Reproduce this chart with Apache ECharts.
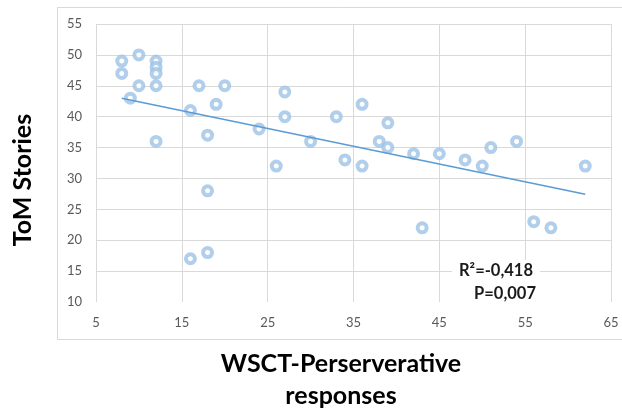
<!DOCTYPE html>
<html>
<head>
<meta charset="utf-8">
<script src="https://cdn.jsdelivr.net/npm/echarts@6/dist/echarts.min.js"></script>
<style>
  html, body { margin: 0; padding: 0; background: #ffffff; }
  #chart { width: 622px; height: 412px; }
</style>
</head>
<body>
<div id="chart"></div>
<script>
// WSCT perseverative responses (x) against ToM stories score (y), one entry per participant
const perseverativeResponses = [8, 8, 10, 12, 12, 12, 12, 10, 9, 12,
  16, 17, 19, 20, 18, 18, 16, 18,
  24, 26, 27, 27, 30, 33, 34, 36, 36, 38,
  39, 39, 42, 43, 45, 48, 50, 51, 54, 56, 58, 62];
const tomStories = [49, 47, 50, 49, 48, 47, 45, 45, 43, 36,
  41, 45, 42, 45, 37, 28, 17, 18,
  38, 32, 44, 40, 36, 40, 33, 42, 32, 36,
  39, 35, 34, 22, 34, 33, 32, 35, 36, 23, 22, 32];

const xTitle = 'WSCT-Perserverative\nresponses';
const yTitle = 'ToM Stories';
const statsLines = ['R²=-0,418', 'P=0,007'];

// Pair the values for the scatter series
const points = perseverativeResponses.map((x, i) => [x, tomStories[i]]);

// Ordinary least-squares trend line over the observed x range
const n = points.length;
const meanX = perseverativeResponses.reduce((a, b) => a + b, 0) / n;
const meanY = tomStories.reduce((a, b) => a + b, 0) / n;
let sxy = 0, sxx = 0;
for (let i = 0; i < n; i++) {
  sxy += (perseverativeResponses[i] - meanX) * (tomStories[i] - meanY);
  sxx += (perseverativeResponses[i] - meanX) ** 2;
}
const slope = sxy / sxx;
const intercept = meanY - slope * meanX;
const xMin = Math.min(...perseverativeResponses);
const xMax = Math.max(...perseverativeResponses);
const trend = [[xMin, intercept + slope * xMin], [xMax, intercept + slope * xMax]];

const FONT = 'Lato, "Open Sans", sans-serif';
const GRID = '#d9d9d9';

const chart = echarts.init(document.getElementById('chart'), null, { renderer: 'canvas' });
chart.setOption({
  animation: false,
  backgroundColor: '#ffffff',
  grid: { left: 96, right: 11, top: 24, bottom: 110 },
  xAxis: {
    type: 'value', min: 5, max: 65, interval: 10,
    axisLine: { show: false },
    axisTick: { show: false },
    axisLabel: { color: '#595959', fontFamily: FONT, fontSize: 13, margin: 14 },
    splitLine: { show: true, lineStyle: { color: GRID, width: 1 } }
  },
  yAxis: {
    type: 'value', min: 10, max: 55, interval: 5,
    axisLine: { show: false },
    axisTick: { show: false },
    axisLabel: { color: '#595959', fontFamily: FONT, fontSize: 13, margin: 14 },
    splitLine: {
      show: true,
      lineStyle: { color: ['transparent', GRID, GRID, GRID, GRID, GRID, GRID, GRID, GRID, GRID], width: 1 }
    }
  },
  series: [
    {
      type: 'scatter',
      data: points,
      symbol: 'circle',
      symbolSize: 9,
      itemStyle: { color: '#ffffff', borderColor: '#9dc3e6', borderWidth: 4 },
      z: 3
    },
    {
      type: 'line',
      data: trend,
      showSymbol: false,
      lineStyle: { color: '#5b9bd5', width: 1.5 },
      z: 4
    }
  ],
  graphic: [
    {
      type: 'rect',
      shape: { x: 57.5, y: 7.5, width: 600, height: 332 },
      style: { fill: 'none', stroke: GRID, lineWidth: 1 },
      silent: true, z: -1
    },
    {
      type: 'text',
      x: 23, y: 180, rotation: Math.PI / 2,
      style: {
        text: yTitle, fontFamily: FONT, fontWeight: 'bold', fontSize: 25,
        fill: '#000000', align: 'center', verticalAlign: 'middle'
      }
    },
    {
      type: 'text',
      x: 341, y: 380,
      style: {
        text: xTitle, fontFamily: FONT, fontWeight: 'bold', fontSize: 25,
        lineHeight: 32, fill: '#000000', align: 'center', verticalAlign: 'middle'
      }
    },
    {
      // white panel behind the statistics box, hiding the gridlines under it
      type: 'rect',
      shape: { x: 452, y: 260, width: 88, height: 42 },
      style: { fill: '#ffffff' },
      silent: true, z: 90
    },
    {
      type: 'text',
      x: 533, y: 271, z: 100,
      style: {
        text: statsLines[0], fontFamily: FONT, fontWeight: 'bold', fontSize: 16.5,
        fill: '#1a1a1a', align: 'right', verticalAlign: 'middle'
      }
    },
    {
      type: 'text',
      x: 536, y: 294, z: 100,
      style: {
        text: statsLines[1], fontFamily: FONT, fontWeight: 'bold', fontSize: 16.5,
        fill: '#1a1a1a', align: 'right', verticalAlign: 'middle'
      }
    }
  ]
});
</script>
</body>
</html>
